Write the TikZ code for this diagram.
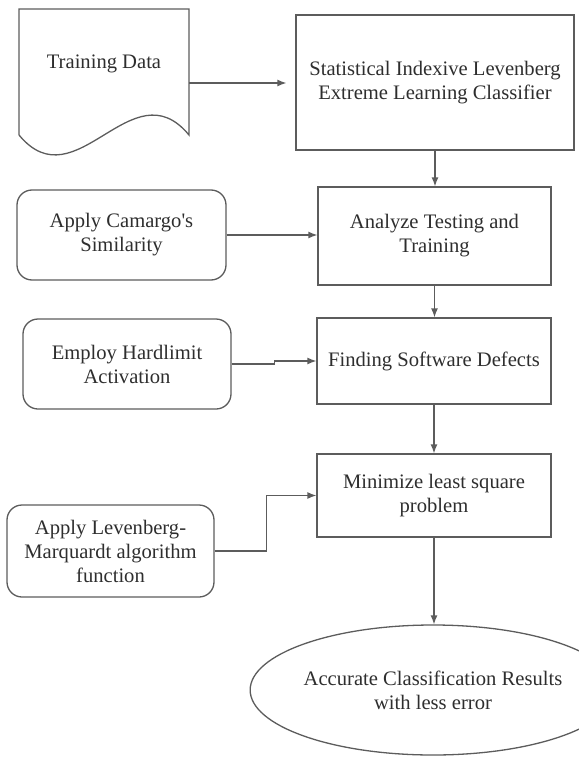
\documentclass[tikz,border=0pt]{standalone}
\usepackage{fontspec}
\setmainfont{Liberation Serif}
\usetikzlibrary{arrows.meta,shapes.geometric}
\definecolor{edge}{HTML}{5C5C5C}
\definecolor{ink}{HTML}{2E2E2E}
\begin{document}
\begin{tikzpicture}[x=1pt,y=-1pt,
  every node/.style={text=ink,font=\fontsize{20.6}{24}\selectfont,align=center,inner sep=0pt},
  outline/.style={draw=edge,line width=1.3pt},
  procbox/.style={outline,rectangle},
  inbox/.style={outline,rectangle,rounded corners=15pt},
  flow/.style={draw=edge,line width=1.3pt,-{Latex[length=9pt,width=7pt]}}]
\useasboundingbox (0,0) rectangle (578,757);

% document symbol with wavy bottom
\draw[outline,line join=miter] (19,135) -- (19,9) -- (189,9) -- (189,135)
  .. controls (132,66) and (76,204) .. (19,135);
\node (doc) at (104,64) {Training Data};
\coordinate (docout) at (189,83);

% process column
\node[procbox,minimum width=278pt,minimum height=135pt] (sil) at (435,82.5)
  {Statistical Indexive Levenberg\\Extreme Learning Classifier};
\node[procbox,minimum width=233pt,minimum height=98pt] (analyze) at (434.5,236)
  {Analyze Testing and\\Training};
\node[procbox,minimum width=234pt,minimum height=86pt] (defects) at (434,361)
  {Finding Software Defects};
\node[procbox,minimum width=234pt,minimum height=83pt] (minim) at (434,495.5)
  {Minimize least square\\problem};
\node[outline,ellipse,minimum width=290pt,minimum height=130pt] (result) at (433,690)
  {Accurate Classification Results\\with less error};

% side inputs
\node[inbox,minimum width=209pt,minimum height=90pt] (camargo) at (121.5,235)
  {Apply Camargo\textquotesingle s\\Similarity};
\node[inbox,minimum width=208pt,minimum height=90pt] (hard) at (127,364)
  {Employ Hardlimit\\Activation};
\node[inbox,minimum width=207pt,minimum height=92pt] (lm) at (110.5,551)
  {Apply Levenberg-\\Marquardt algorithm\\function};

% connectors
\draw[flow,shorten >=9pt] (docout) -- (docout -| sil.west);
\draw[flow] (sil.south) -- (sil.south |- analyze.north);
\draw[flow] (analyze.south) -- (analyze.south |- defects.north);
\draw[flow] (defects.south) -- (defects.south |- minim.north);
\draw[flow] (minim.south) -- (minim.south |- result.north);
\draw[flow] (camargo.east) -- (camargo.east -| analyze.west);
\draw[flow] (hard.east) -- ++(43,0) |- (defects.west);
\draw[flow] (lm.east) -- ++(52,0) |- (minim.west);
\end{tikzpicture}
\end{document}
